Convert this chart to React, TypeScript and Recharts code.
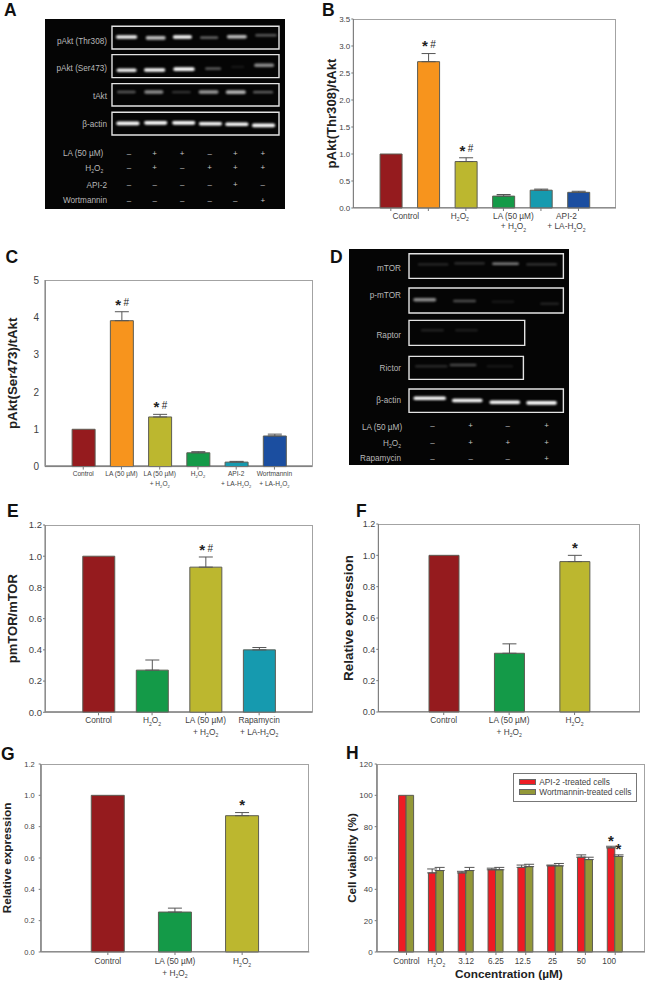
import React from "react";
import {
  BarChart, Bar, XAxis, YAxis, Cell, ErrorBar, LabelList, Label,
  ScatterChart, Scatter, ReferenceArea,
} from "recharts";

const RED = "#951b1e";
const ORANGE = "#f7941d";
const OLIVE = "#bcb72f";
const GREEN = "#149a48";
const TEAL = "#169aaf";
const BLUE = "#1b4ea0";
const API_RED = "#ed1c24";
const WORT_OLIVE = "#939838";

// Panel B
const bCats = ["Control", "", "H2O2", "LA (50 µM)\n+ H2O2", "", "API-2\n+ LA-H2O2"];
const bValues = [1.0, 2.71, 0.86, 0.22, 0.33, 0.29];
const bErrors = [0, 0.15, 0.07, 0.03, 0.02, 0.02];
const bMarks = ["", "*#", "*#", "", "", ""];
const bColors = [RED, ORANGE, OLIVE, GREEN, TEAL, BLUE];
const bTicks = [0, 0.5, 1, 1.5, 2, 2.5, 3, 3.5];
const bLabelShift = [15, 0, -6, 10, 0, -12];

// Panel C
const cCats = ["Control", "LA (50 µM)", "LA (50 µM)\n+ H2O2", "H2O2", "API-2\n+ LA-H2O2", "Wortmannin\n+ LA-H2O2"];
const cValues = [1.0, 3.91, 1.33, 0.37, 0.12, 0.82];
const cErrors = [0, 0.24, 0.07, 0.03, 0.02, 0.05];
const cMarks = ["", "*#", "*#", "", "", ""];
const cColors = [RED, ORANGE, OLIVE, GREEN, TEAL, BLUE];
const cTicks = [0, 1, 2, 3, 4, 5];

// Panel E
const eCats = ["Control", "H2O2", "LA (50 µM)\n+ H2O2", "Rapamycin\n+ LA-H2O2"];
const eValues = [1.0, 0.27, 0.93, 0.4];
const eErrors = [0, 0.065, 0.065, 0.015];
const eMarks = ["", "", "*#", ""];
const eColors = [RED, GREEN, OLIVE, TEAL];

// Panel F
const fCats = ["Control", "LA (50 µM)\n+ H2O2", "H2O2"];
const fValues = [1.0, 0.375, 0.96];
const fErrors = [0, 0.06, 0.04];
const fMarks = ["", "", "*"];
const fColors = [RED, GREEN, OLIVE];

// Panel G
const gCats = ["Control", "LA (50 µM)\n+ H2O2", "H2O2"];
const gValues = [1.0, 0.255, 0.87];
const gErrors = [0, 0.025, 0.02];
const gMarks = ["", "", "*"];
const gColors = [RED, GREEN, OLIVE];

const ratioTicks = [0, 0.2, 0.4, 0.6, 0.8, 1, 1.2];

// Panel H
const hCats = ["Control", "H2O2", "3.12", "6.25", "12.5", "25", "50", "100"];
const hApi = [100, 50.5, 50.5, 52.5, 54, 55, 60.5, 66.5];
const hApiErr = [0, 2.5, 1, 1, 1.5, 0.5, 1.5, 1];
const hApiMarks = ["", "", "", "", "", "", "", "*"];
const hWort = [100, 52, 52, 52.5, 54.5, 55, 59, 61];
const hWortErr = [0, 2, 2, 1.5, 1.5, 1.5, 1.5, 1];
const hWortMarks = ["", "", "", "", "", "", "", "*"];
const hTicks = [0, 20, 40, 60, 80, 100, 120];
const hLabelShift = [0, 0, 0, 0, -3, -3, -4, -6];
const hLegend = ["API-2 -treated cells", "Wortmannin-treated cells"];

// Blot A, in lane / row units
const aRowNames = ["pAkt (Thr308)", "pAkt (Ser473)", "tAkt", "β-actin"];
const aRowNameRows = [0.118, 1.08, 2.035, 3.03];
const aTableNames = ["LA (50 µM)", "H2O2", "API-2", "Wortmannin"];
const aTableRows = [4.04, 4.53, 5.136, 5.669];
const aTableNameLanes = [-0.966, -0.966, -0.824, -0.824];
const aSigns = ["-++-++", "-+-+++", "----+-", "-----+"];
const aSignRows = [4.03, 4.52, 5.12, 5.67];
const aBoxes = [
  [-0.637, 5.618, -0.394, 0.397],
  [-0.637, 5.618, 0.592, 1.394],
  [-0.637, 5.618, 1.603, 2.383],
  [-0.637, 5.618, 2.603, 3.394],
];
const aBands = [
  { lane: -0.09, row: -0.02, level: 0.95, len: 0.8 },
  { lane: 1.0, row: 0.01, level: 0.75, len: 0.75 },
  { lane: 2.0, row: -0.02, level: 1, len: 0.72 },
  { lane: 3.0, row: 0.0, level: 0.45, len: 0.68 },
  { lane: 4.04, row: -0.03, level: 0.75, len: 0.75 },
  { lane: 5.13, row: -0.08, level: 0.35, len: 0.8 },
  { lane: -0.09, row: 1.14, level: 0.95, len: 0.75 },
  { lane: 0.96, row: 1.13, level: 1, len: 0.8 },
  { lane: 2.06, row: 1.1, level: 1, len: 0.8 },
  { lane: 3.15, row: 1.08, level: 0.4, len: 0.6 },
  { lane: 4.07, row: 1.02, level: 0.08, len: 0.5 },
  { lane: 5.06, row: 0.965, level: 0.55, len: 0.75 },
  { lane: -0.1, row: 1.895, level: 0.35, len: 0.7 },
  { lane: 0.93, row: 1.895, level: 0.55, len: 0.72 },
  { lane: 1.96, row: 1.9, level: 0.2, len: 0.7 },
  { lane: 2.98, row: 1.895, level: 0.6, len: 0.75 },
  { lane: 4.0, row: 1.9, level: 0.7, len: 0.75 },
  { lane: 5.02, row: 1.9, level: 0.4, len: 0.75 },
  { lane: -0.04, row: 2.99, level: 1, len: 0.87 },
  { lane: 1.0, row: 2.97, level: 1, len: 0.87 },
  { lane: 2.05, row: 2.97, level: 1, len: 0.87 },
  { lane: 3.05, row: 3.0, level: 1, len: 0.87 },
  { lane: 4.04, row: 3.02, level: 1, len: 0.87 },
  { lane: 5.04, row: 3.06, level: 1, len: 0.87 },
];

// Blot D, in lane / row units
const dRowNames = ["mTOR", "p-mTOR", "Raptor", "Rictor", "β-actin"];
const dRowNameRows = [0, 0.82, 2.01, 3.02, 3.99];
const dTableNames = ["LA (50 µM)", "H2O2", "Rapamycin"];
const dTableRows = [4.78, 5.26, 5.71];
const dTableNameLanes = [-0.79, -0.82, -0.82];
const dSigns = ["-+-+", "-+++", "---+"];
const dSignRows = [4.74, 5.23, 5.71];
const dBoxes = [
  [-0.611, 3.42, -0.42, 0.321],
  [-0.611, 3.42, 0.61, 1.36],
  [-0.611, 2.41, 1.583, 2.333],
  [-0.611, 2.376, 2.664, 3.354],
  [-0.611, 3.42, 3.643, 4.345],
];
const dBands = [
  { lane: 0.02, row: -0.1, level: 0.15, len: 0.8 },
  { lane: 0.97, row: -0.13, level: 0.18, len: 0.8 },
  { lane: 1.91, row: -0.12, level: 0.5, len: 0.7 },
  { lane: 2.85, row: -0.1, level: 0.2, len: 0.8 },
  { lane: -0.2, row: 0.96, level: 0.55, len: 0.6 },
  { lane: 0.84, row: 1.0, level: 0.3, len: 0.6 },
  { lane: 1.84, row: 1.02, level: 0.08, len: 0.6 },
  { lane: 3.06, row: 1.08, level: 0.12, len: 0.5 },
  { lane: 0.0, row: 1.88, level: 0.12, len: 0.6 },
  { lane: 0.89, row: 1.88, level: 0.1, len: 0.6 },
  { lane: -0.03, row: 2.96, level: 0.15, len: 0.85 },
  { lane: 0.8, row: 2.92, level: 0.28, len: 0.7 },
  { lane: 1.76, row: 2.96, level: 0.08, len: 0.7 },
  { lane: -0.07, row: 3.92, level: 1, len: 0.85 },
  { lane: 0.91, row: 3.99, level: 1, len: 0.8 },
  { lane: 1.89, row: 4.04, level: 1, len: 0.8 },
  { lane: 2.85, row: 4.06, level: 1, len: 0.8 },
];

const FONT = '"Liberation Sans", Arial, sans-serif';
const INK = "#3f3f3f";

function Chem({ text, fontSize }: { text: string; fontSize: number }) {
  const parts = text.split("H2O2");
  if (parts.length === 1) return <>{text}</>;
  const sub = fontSize * 0.62;
  const drop = fontSize * 0.28;
  return (
    <>
      {parts[0]}H
      <tspan dy={drop} fontSize={sub}>2</tspan>
      <tspan dy={-drop}>O</tspan>
      <tspan dy={drop} fontSize={sub}>2</tspan>
    </>
  );
}

type Series = { name: string; values: number[]; errors: number[]; marks: string[]; colors?: string[]; color?: string };

type PanelProps = {
  frame: { left: number; top: number; width: number; height: number };
  cats: string[];
  series: Series[];
  domainMax: number;
  ticks: number[];
  decimals: number;
  yLabel: string;
  yLabelX: number;
  yLabelSize: number;
  tickSize: number;
  tickGap: number;
  showYTicks?: boolean;
  catSize: number;
  lineOne: number;
  lineGap: number;
  barSize: number;
  capWidth?: number;
  shift?: number[];
  markGap?: number;
  markX?: number;
  marginBottom?: number;
};

function BarPanel(p: PanelProps) {
  const { frame, cats, series } = p;
  const axisW = frame.left;
  const mt = 8;
  const mb = p.marginBottom ?? 34;
  const step = frame.width / (cats.length + 1);
  const xTickSize = 3;
  const rows = cats.map((c, i) => {
    const r: any = { id: i };
    series.forEach((s, k) => {
      r["v" + k] = s.values[i];
      r["e" + k] = s.errors[i] > 0 ? [0, s.errors[i]] : null;
      r["m" + k] = s.marks[i];
    });
    return r;
  });
  const renderTick = (t: any) => {
    const i = Number(t.payload.value);
    const dx = p.shift ? p.shift[i] : 0;
    const lines = cats[i].split("\n").filter(Boolean);
    const base = t.y - xTickSize + p.lineOne + p.catSize * 0.35;
    return (
      <g>
        {lines.map((line, k) => (
          <text key={k} x={t.x + dx} y={base + k * p.lineGap} textAnchor="middle" fontSize={p.catSize} fontFamily={FONT} fill={INK}>
            <Chem text={line} fontSize={p.catSize} />
          </text>
        ))}
      </g>
    );
  };
  const markFor = (k: number) => (props: any) => {
    const s = series[k];
    const i = props.index;
    const mark = s.marks[i];
    if (!mark) return null;
    const vb = props.viewBox || props;
    const errPx = (vb.height / s.values[i]) * s.errors[i];
    const cx = vb.x + vb.width / 2 + (p.markX ?? 0);
    const cy = vb.y - errPx - (p.markGap ?? 9);
    const two = mark.length > 1;
    return (
      <g>
        <text x={two ? cx - 3.6 : cx} y={cy + 6.8} textAnchor="middle" fontSize={15} fontWeight={700} fontFamily={FONT} fill="#222">*</text>
        {two && <text x={cx + 4.4} y={cy + 3.6} textAnchor="middle" fontSize={10} fontFamily={FONT} fill="#222">#</text>}
      </g>
    );
  };
  return (
    <>
      <div style={{ position: "absolute", left: frame.left, top: frame.top, width: frame.width, height: frame.height, border: "1px solid #a3a3a3", boxSizing: "border-box" }} />
      <div style={{ position: "absolute", left: 0, top: frame.top - mt }}>
        <BarChart
          width={frame.left + frame.width + 5}
          height={mt + frame.height + mb}
          data={rows}
          margin={{ top: mt, right: 5, left: 0, bottom: 0 }}
          barGap={0}
          barSize={p.barSize}
        >
          <XAxis
            dataKey="id"
            type="category"
            height={mb}
            interval={0}
            tickSize={xTickSize}
            tickMargin={0}
            stroke="#777"
            padding={{ left: step / 2, right: step / 2 }}
            tick={renderTick}
          />
          <YAxis
            type="number"
            width={axisW}
            domain={[0, p.domainMax]}
            ticks={p.ticks}
            interval={0}
            tickSize={p.showYTicks === false ? 0 : 2}
            tickLine={p.showYTicks !== false}
            tickMargin={p.tickGap}
            stroke="#777"
            tick={{ fontSize: p.tickSize, fontFamily: FONT, fill: INK }}
            tickFormatter={(v: number) => v.toFixed(p.decimals)}
          >
            <Label
              content={() => (
                <text
                  x={p.yLabelX}
                  y={frame.height / 2 + mt}
                  textAnchor="middle"
                  dominantBaseline="central"
                  transform={`rotate(-90 ${p.yLabelX} ${frame.height / 2 + mt})`}
                  fontSize={p.yLabelSize}
                  fontWeight={700}
                  fontFamily={FONT}
                  fill="#222"
                >
                  {p.yLabel}
                </text>
              )}
            />
          </YAxis>
          {series.map((s, k) => (
            <Bar key={s.name} dataKey={"v" + k} name={s.name} stroke="#5c5c52" strokeWidth={1} isAnimationActive={false} fill={s.color}>
              {cats.map((_, i) => (
                <Cell key={i} fill={s.colors ? s.colors[i] : s.color} />
              ))}
              <ErrorBar dataKey={"e" + k} direction="y" width={p.capWidth ?? 7} stroke="#555" strokeWidth={1} isAnimationActive={false} />
              <LabelList dataKey={"m" + k} content={markFor(k)} />
            </Bar>
          ))}
        </BarChart>
      </div>
    </>
  );
}

type Band = { lane: number; row: number; level: number; len: number };

type BlotProps = {
  left: number; top: number; width: number; height: number;
  xDomain: [number, number]; yDomain: [number, number];
  boxes: number[][]; bands: Band[];
  rowNames: string[]; rowNameRows: number[]; rowNameLane: number;
  tableNames: string[]; tableRows: number[]; tableNameLanes: number[];
  signs: string[]; signRows: number[]; signLanes?: number[];
};

function Blot(p: BlotProps) {
  const unit = p.width / (p.xDomain[1] - p.xDomain[0]);
  const names = [
    ...p.rowNames.map((text, i) => ({ lane: p.rowNameLane, row: p.rowNameRows[i], text })),
    ...p.tableNames.map((text, i) => ({ lane: p.tableNameLanes[i], row: p.tableRows[i], text })),
  ];
  const signs = p.signs.flatMap((s, r) =>
    s.split("").map((c, i) => ({ lane: p.signLanes ? p.signLanes[i] : i, row: p.signRows[r], text: c === "+" ? "+" : "–" }))
  );
  return (
    <div style={{ position: "absolute", left: p.left, top: p.top, width: p.width, height: p.height, background: "#050505" }}>
      <ScatterChart width={p.width} height={p.height} margin={{ top: 0, right: 0, bottom: 0, left: 0 }}>
        <XAxis type="number" dataKey="lane" domain={p.xDomain} hide allowDataOverflow />
        <YAxis type="number" dataKey="row" domain={p.yDomain} reversed hide allowDataOverflow />
        {p.boxes.map((b, i) => (
          <ReferenceArea key={i} x1={b[0]} x2={b[1]} y1={b[2]} y2={b[3]} fill="none" stroke="#e4e4e4" strokeWidth={1.4} fillOpacity={0} />
        ))}
        <Scatter
          data={p.bands}
          isAnimationActive={false}
          shape={(s: any) => {
            const w = s.payload.len * unit;
            const h = s.payload.level > 0.5 ? 3.6 : 2.4;
            return (
              <rect
                x={s.cx - w / 2}
                y={s.cy - h / 2}
                width={w}
                height={h}
                rx={h / 2}
                fill="#fff"
                fillOpacity={s.payload.level}
                style={{ filter: "blur(0.8px)" }}
              />
            );
          }}
        />
        <Scatter
          data={names}
          isAnimationActive={false}
          shape={(s: any) => (
            <text x={s.cx} y={s.cy + 2.9} textAnchor="end" fontSize={8.2} fontFamily={FONT} fill="#b8b8b8">
              <Chem text={s.payload.text} fontSize={8.2} />
            </text>
          )}
        />
        <Scatter
          data={signs}
          isAnimationActive={false}
          shape={(s: any) => (
            <text x={s.cx} y={s.cy + 2.8} textAnchor="middle" fontSize={8} fontFamily={FONT} fill="#c8c8c8">
              {s.payload.text}
            </text>
          )}
        />
      </ScatterChart>
    </div>
  );
}

function Letter({ x, y, text }: { x: number; y: number; text: string }) {
  return (
    <div style={{ position: "absolute", left: x, top: Math.max(0, y - 15.9), font: `700 17.5px/20px ${FONT}`, color: "#111" }}>{text}</div>
  );
}

export default function App() {
  return (
    <div style={{ position: "absolute", left: 0, top: 0, width: 646, height: 981, background: "#fff", overflow: "hidden", fontFamily: FONT }}>
      <Letter x={4} y={16} text="A" />
      <Letter x={322} y={16} text="B" />
      <Letter x={5.5} y={262.7} text="C" />
      <Letter x={330} y={263} text="D" />
      <Letter x={7} y={516.7} text="E" />
      <Letter x={356} y={516.7} text="F" />
      <Letter x={1} y={759.5} text="G" />
      <Letter x={346} y={759.3} text="H" />

      <Blot
        left={45.3} top={18.7} width={239.7} height={190}
        xDomain={[-3.146, 5.831]} yDomain={[-0.648, 5.972]}
        boxes={aBoxes} bands={aBands}
        rowNames={aRowNames} rowNameRows={aRowNameRows} rowNameLane={-0.824}
        tableNames={aTableNames} tableRows={aTableRows} tableNameLanes={aTableNameLanes}
        signs={aSigns} signRows={aSignRows} signLanes={[0, 0.96, 1.99, 3.02, 3.98, 5.01]}
      />
      <Blot
        left={349.3} top={249.3} width={219.4} height={216}
        xDomain={[-2.178, 3.551]} yDomain={[-0.562, 5.925]}
        boxes={dBoxes} bands={dBands}
        rowNames={dRowNames} rowNameRows={dRowNameRows} rowNameLane={-0.82}
        tableNames={dTableNames} tableRows={dTableRows} tableNameLanes={dTableNameLanes}
        signs={dSigns} signRows={dSignRows} signLanes={[0, 1, 1.97, 2.98]}
      />

      <BarPanel
        frame={{ left: 353.3, top: 19, width: 262.7, height: 189 }}
        cats={bCats}
        series={[{ name: "pAkt(Thr308)/tAkt", values: bValues, errors: bErrors, marks: bMarks, colors: bColors }]}
        domainMax={3.5} ticks={bTicks} decimals={1}
        yLabel="pAkt(Thr308)/tAkt" yLabelX={331} yLabelSize={13.1}
        tickSize={8} tickGap={1}
        catSize={8.3} lineOne={7.7} lineGap={10.7} barSize={22} shift={bLabelShift}
      />
      <BarPanel
        frame={{ left: 45, top: 279.7, width: 267.7, height: 186.6 }}
        cats={cCats}
        series={[{ name: "pAkt(Ser473)/tAkt", values: cValues, errors: cErrors, marks: cMarks, colors: cColors }]}
        domainMax={5} ticks={cTicks} decimals={0}
        yLabel="pAkt(Ser473)/tAkt" yLabelX={12.7} yLabelSize={13.3}
        tickSize={10} tickGap={6} showYTicks={false}
        catSize={6.6} lineOne={7} lineGap={10} barSize={23}
      />
      <BarPanel
        frame={{ left: 45, top: 524.7, width: 267.7, height: 187.3 }}
        cats={eCats}
        series={[{ name: "pmTOR/mTOR", values: eValues, errors: eErrors, marks: eMarks, colors: eColors }]}
        domainMax={1.2} ticks={ratioTicks} decimals={1}
        yLabel="pmTOR/mTOR" yLabelX={12.7} yLabelSize={13}
        tickSize={9.5} tickGap={1}
        catSize={8.3} lineOne={8.3} lineGap={11.3} barSize={32}
      />
      <BarPanel
        frame={{ left: 378.3, top: 524, width: 261.7, height: 188 }}
        cats={fCats}
        series={[{ name: "Relative expression", values: fValues, errors: fErrors, marks: fMarks, colors: fColors }]}
        domainMax={1.2} ticks={ratioTicks} decimals={1}
        yLabel="Relative expression" yLabelX={348} yLabelSize={13.4}
        tickSize={9} tickGap={1}
        catSize={8.3} lineOne={8.3} lineGap={11.3} barSize={30}
      />
      <BarPanel
        frame={{ left: 40.7, top: 764.3, width: 268.6, height: 188 }}
        cats={gCats}
        series={[{ name: "Relative expression", values: gValues, errors: gErrors, marks: gMarks, colors: gColors }]}
        domainMax={1.2} ticks={ratioTicks} decimals={1}
        yLabel="Relative expression" yLabelX={7} yLabelSize={11.8}
        tickSize={7.5} tickGap={4}
        catSize={8.3} lineOne={9.4} lineGap={11.6} barSize={33}
      />
      <BarPanel
        frame={{ left: 376.7, top: 764.3, width: 268.3, height: 188 }}
        cats={hCats}
        series={[
          { name: hLegend[0], values: hApi, errors: hApiErr, marks: hApiMarks, color: API_RED },
          { name: hLegend[1], values: hWort, errors: hWortErr, marks: hWortMarks, color: WORT_OLIVE },
        ]}
        domainMax={120} ticks={hTicks} decimals={0}
        yLabel="Cell viability (%)" yLabelX={351} yLabelSize={11.7}
        tickSize={8} tickGap={2}
        catSize={8.2} lineOne={9.4} lineGap={11} barSize={7.5} capWidth={5}
        shift={hLabelShift} markGap={7.5} marginBottom={29}
      />

      <div style={{ position: "absolute", left: 374.7, width: 268.3, top: 966.5, textAlign: "center", font: `700 11.8px/14px ${FONT}`, color: "#222" }}>
        Concentration (µM)
      </div>

      <div style={{ position: "absolute", left: 513.3, top: 773.3, width: 124, height: 28.4, border: "1px solid #777", boxSizing: "border-box", background: "#fff" }}>
        {hLegend.map((name, i) => (
          <div key={name} style={{ position: "absolute", left: 5, top: 5 + i * 9.3, whiteSpace: "nowrap", font: `8.3px/7px ${FONT}`, color: INK }}>
            <span style={{ display: "inline-block", width: 17, height: 6, boxSizing: "border-box", border: "1px solid #666", background: i === 0 ? API_RED : WORT_OLIVE, marginRight: 3, verticalAlign: "top" }} />
            {name}
          </div>
        ))}
      </div>
    </div>
  );
}
